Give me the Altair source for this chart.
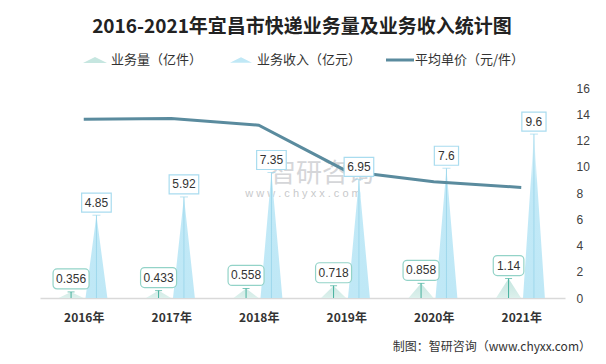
import altair as alt
import pandas as pd

# ---------------- data ----------------
years = ["2016年", "2017年", "2018年", "2019年", "2020年", "2021年"]
volume = [0.356, 0.433, 0.558, 0.718, 0.858, 1.14]      # 业务量（亿件）
revenue = [4.85, 5.92, 7.35, 6.95, 7.6, 9.6]            # 业务收入（亿元）
price = [13.62, 13.67, 13.17, 9.68, 8.86, 8.42]         # 平均单价（元/件）
right_ticks = [0, 2, 4, 6, 8, 10, 12, 14, 16]

title_text = "2016-2021年宜昌市快递业务量及业务收入统计图"
legend_names = ["业务量（亿件）", "业务收入（亿元）", "平均单价（元/件）"]
source_text = "制图：智研咨询（www.chyxx.com）"

# ---------------- styling constants ----------------
VOL_OFF, REV_OFF = -0.145, 0.145     # offsets of the two triangles inside a category
VOL_HW, REV_HW = 0.143, 0.125        # half widths of triangle bases (category units)
LEFT_MAX = 12.3
BAND_PX = 87.5
FONT = "Noto Sans CJK SC"
NUMFONT = "Liberation Sans"

idx = list(range(len(years)))

tri_rows = []
for i in idx:
    for series, vals, off, hw in (("vol", volume, VOL_OFF, VOL_HW),
                                  ("rev", revenue, REV_OFF, REV_HW)):
        c = i + off
        for px, py in ((c - hw, 0.0), (c, vals[i]), (c + hw, 0.0)):
            tri_rows.append({"key": f"{series}{i}", "series": series, "px": px, "py": py})
tri = pd.DataFrame(tri_rows)

lab = pd.DataFrame({"i": idx, "year": years, "vol": volume, "rev": revenue, "price": price})
lab["vol_pos"] = lab["i"] + VOL_OFF
lab["rev_pos"] = lab["i"] + REV_OFF
lab["vol_txt"] = [str(v) for v in volume]
lab["rev_txt"] = [str(v) for v in revenue]
lab["vol_hw"] = [(5.4 * len(t) + 9) / BAND_PX / 2 for t in lab["vol_txt"]]
lab["rev_hw"] = [(5.4 * len(t) + 8) / BAND_PX / 2 for t in lab["rev_txt"]]
lab["vol_l"] = lab["vol_pos"] - lab["vol_hw"]
lab["vol_r"] = lab["vol_pos"] + lab["vol_hw"]
lab["rev_l"] = lab["rev_pos"] - lab["rev_hw"]
lab["rev_r"] = lab["rev_pos"] + lab["rev_hw"]
lab["zero"] = 0.0

label_expr = "[" + ",".join(f"'{y}'" for y in years) + "][datum.value]"

xscale = alt.Scale(domain=[-0.5, len(years) - 0.5], nice=False, zero=False)
xaxis = alt.Axis(values=idx, labelExpr=label_expr, title=None, grid=False, ticks=False,
                 domain=True, domainColor="#d9d9d9", domainWidth=1.5,
                 labelFontWeight="bold", labelFontSize=12, labelColor="#333333",
                 labelFont=FONT, labelPadding=14)
lscale = alt.Scale(domain=[0, LEFT_MAX], nice=False, zero=True)


def X(field):
    return alt.X(field, type="quantitative", scale=xscale, axis=xaxis, title=None)


def YL(field):
    return alt.Y(field, type="quantitative", scale=lscale, axis=None, title=None)


def Y2(field):
    return alt.Y2(field)


# ---------------- triangles ----------------
rev_fill = alt.Gradient(gradient="linear", x1=0, x2=0, y1=0, y2=1,
                        stops=[alt.GradientStop(color="#f2fbfe", offset=0),
                               alt.GradientStop(color="#c2e9f7", offset=0.3),
                               alt.GradientStop(color="#bfe8f6", offset=1)])
vol_fill = alt.Gradient(gradient="linear", x1=0, x2=0, y1=0, y2=1,
                        stops=[alt.GradientStop(color="#c4e5df", offset=0),
                               alt.GradientStop(color="#dcf0ec", offset=1)])

vol_tri = alt.Chart(tri).transform_filter("datum.series == 'vol'").mark_area(
    fill=vol_fill, strokeWidth=0).encode(x=X("px"), y=YL("py"), detail="key:N")
rev_tri = alt.Chart(tri).transform_filter("datum.series == 'rev'").mark_area(
    fill=rev_fill, strokeWidth=0).encode(x=X("px"), y=YL("py"), detail="key:N")

# leader lines + caps
rev_lead = alt.Chart(lab).mark_rule(color="#9fd8ec", strokeWidth=1).encode(
    x=X("rev_pos"), y=YL("rev"), y2=Y2("zero"))
rev_cap = alt.Chart(lab).mark_tick(orient="horizontal", color="#9fd8ec", size=8,
                                   thickness=1).encode(x=X("rev_pos"), y=YL("rev"))
vol_lead = alt.Chart(lab).mark_rule(color="#45b09d", strokeWidth=1).encode(
    x=X("vol_pos"), y=YL("vol"), y2=Y2("zero"))
vol_cap = alt.Chart(lab).mark_tick(orient="horizontal", color="#45b09d", size=7,
                                   thickness=1).encode(x=X("vol_pos"), y=YL("vol"))

one = pd.DataFrame({"k": [0]})


def deco_text(text, x, y, **kw):
    return alt.Chart(one).mark_text(text=text, **kw).encode(x=alt.value(x), y=alt.value(y))


# watermark (drawn beneath the data)
wm1 = deco_text("智研咨询", 282, 86, font=FONT, fontSize=26, color="#c4c6c9",
                opacity=0.7, align="center", baseline="middle")
wm2 = deco_text("w w w . c h y x x . c o m", 263, 106, font=NUMFONT, fontSize=11,
                color="#b5b7ba", opacity=0.75, align="center", baseline="middle")

left_a = alt.layer(wm1, wm2, vol_tri, rev_tri, rev_lead, rev_cap, vol_lead, vol_cap)

# ---------------- price line (right axis) ----------------
line = alt.Chart(lab).mark_line(color="#5a8b9e", strokeWidth=3).encode(
    x=X("i"),
    y=alt.Y("price:Q", scale=alt.Scale(domain=[0, 16], nice=False),
            axis=alt.Axis(orient="right", values=right_ticks, ticks=False, domain=False,
                          grid=False, labelPadding=11, labelFontSize=12,
                          labelColor="#404040", labelFont=NUMFONT, title=None)))

# ---------------- data labels ----------------
rev_box = alt.Chart(lab).mark_rect(fill="white", stroke="#a9dcef", strokeWidth=1.2,
                                   yOffset=-3, y2Offset=-22).encode(
    x=X("rev_l"), x2=alt.X2("rev_r"), y=YL("rev"), y2=Y2("rev"))
rev_txt = alt.Chart(lab).mark_text(font=NUMFONT, fontSize=12, color="#333333",
                                   baseline="middle", dy=-12.5).encode(
    x=X("rev_pos"), y=YL("rev"), text="rev_txt:N")
vol_box = alt.Chart(lab).mark_rect(fill="white", stroke="#93d3c8", strokeWidth=1.2,
                                   cornerRadius=4, yOffset=-3, y2Offset=-23).encode(
    x=X("vol_l"), x2=alt.X2("vol_r"), y=YL("vol"), y2=Y2("vol"))
vol_txt = alt.Chart(lab).mark_text(font=NUMFONT, fontSize=12, color="#333333",
                                   baseline="middle", dy=-13).encode(
    x=X("vol_pos"), y=YL("vol"), text="vol_txt:N")

# title
title = deco_text(title_text, 262, -61, font=FONT, fontSize=19, fontWeight="bold",
                  color="#222222", align="center", baseline="middle")

# legend
tri_shape = "M-1,0.25L0,-0.25L1,0.25Z"
leg_sw1 = alt.Chart(one).mark_point(shape=tri_shape, size=576, filled=True, opacity=1,
                                    color="#c6e6e0").encode(x=alt.value(55), y=alt.value(-28))
leg_sw2 = alt.Chart(one).mark_point(shape=tri_shape, size=484, filled=True, opacity=1,
                                    color="#c0e8f6").encode(x=alt.value(201), y=alt.value(-28))
leg_sw3 = alt.Chart(one).mark_rule(color="#5a8b9e", strokeWidth=3).encode(
    x=alt.value(346), x2=alt.value(374), y=alt.value(-28))
leg_t1 = deco_text(legend_names[0], 71, -28, font=FONT, fontSize=13, color="#333333",
                   align="left", baseline="middle")
leg_t2 = deco_text(legend_names[1], 217, -28, font=FONT, fontSize=13, color="#333333",
                   align="left", baseline="middle")
leg_t3 = deco_text(legend_names[2], 375, -28, font=FONT, fontSize=13, color="#333333",
                   align="left", baseline="middle")

# source
src = deco_text(source_text, 551, 259, font=FONT, fontSize=12, color="#333333",
                align="right", baseline="middle")

left_b = alt.layer(rev_box, rev_txt, vol_box, vol_txt, title,
                   leg_sw1, leg_sw2, leg_sw3, leg_t1, leg_t2, leg_t3, src)

chart = alt.layer(left_a, line, left_b).resolve_scale(y="independent").properties(
    width=525, height=210,
    autosize=alt.AutoSizeParams(type="none"),
    padding={"left": 32, "top": 80, "right": 30, "bottom": 56},
    background="white",
).configure_view(stroke=None)

chart.save("out.html", embed_options={"renderer": "svg", "actions": False})
